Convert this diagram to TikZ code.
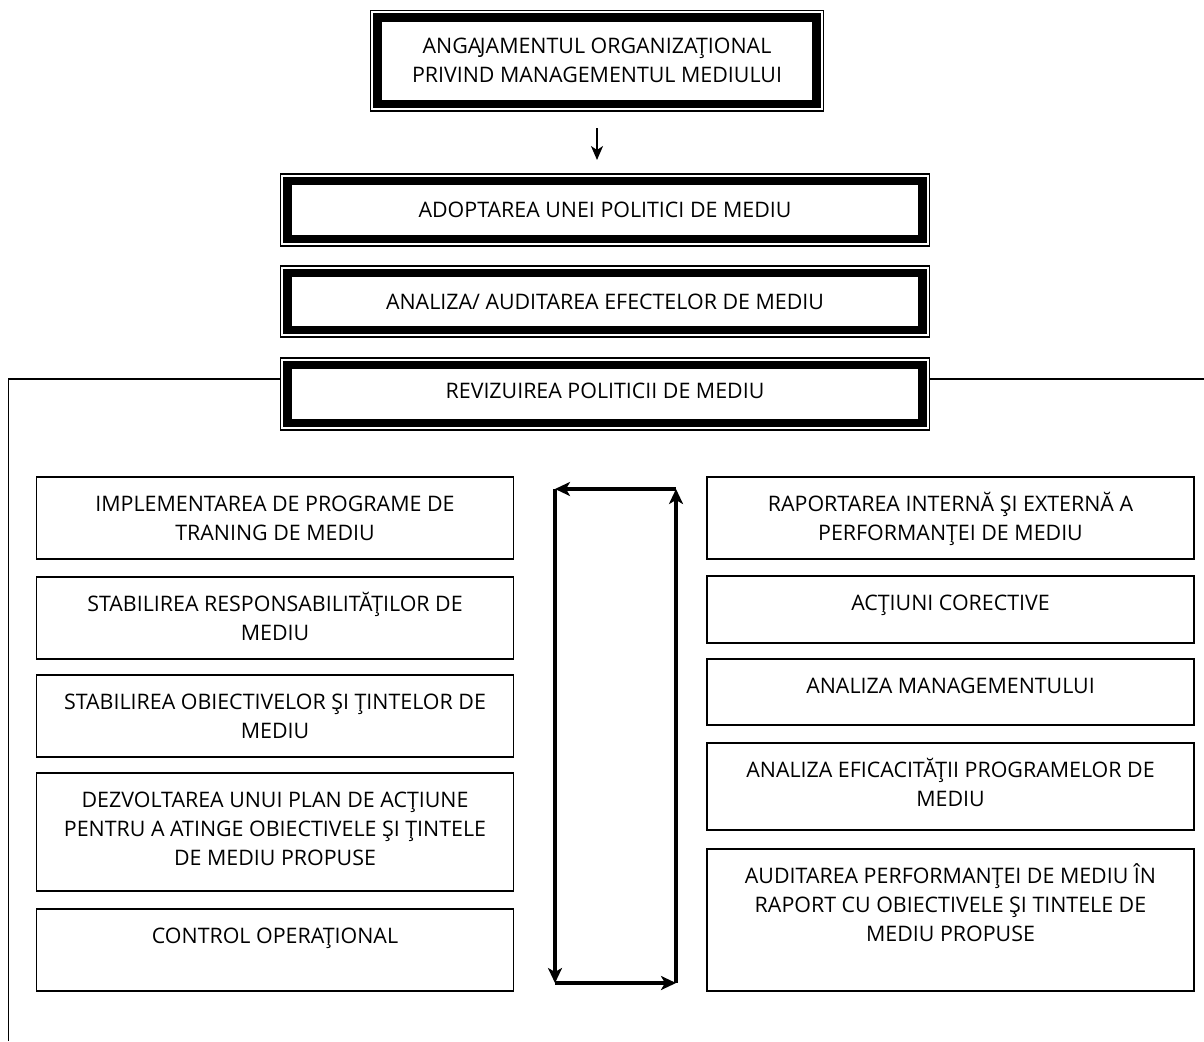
\documentclass[tikz,border=0pt]{standalone}
\usepackage{fontspec}
\setmainfont{Open Sans}
\usetikzlibrary{arrows.meta,calc}
\newcommand\boxtext[3]{\parbox[c][#1][t]{#2}{\centering\fontsize{21.4}{29}\selectfont\rule{0pt}{34pt}#3}}
\begin{document}
\begin{tikzpicture}[x=1pt,y=-1pt,
  bigbox/.style={draw, line width=8.5pt, outer sep=0pt, inner sep=0pt, align=center,
    font=\fontsize{21.4}{29}\selectfont},
  outerline/.style={draw, line width=1.6pt},
  smallbox/.style={draw, line width=1.6pt, inner sep=0pt, outer sep=0pt, anchor=north west},
  conn/.style={line width=1.6pt},
  mainarrow/.style={line width=2pt, -{Stealth[length=14pt,width=12pt,inset=4pt]}},
  looparrow/.style={line width=3.4pt, -{Stealth[length=15pt,width=14pt,inset=4pt]}}
]
\useasboundingbox (0,0) rectangle (1204,1041);

% big double-border boxes
\node[bigbox, minimum width=439pt, minimum height=86.5pt] (top) at (597,60.75)
  {ANGA\kern-1.5pt JAMENTUL ORGANIZAŢIONAL\\PRIVIND MANAGEMENTUL MEDIULUI};
\node[bigbox, minimum width=635pt, minimum height=58pt] (b2) at (605,210)
  {ADOPTAREA UNEI POLITICI DE MEDIU};
\node[bigbox, minimum width=635pt, minimum height=57pt] (b3) at (605,301.5)
  {ANALIZA/ AUDITAREA EFECTELOR DE MEDIU};
\node[bigbox, minimum width=635pt, minimum height=58pt] (b4) at (605,394)
  {\raisebox{6pt}{REVIZUIREA POLITICII DE MEDIU}};
\foreach \n in {top,b2,b3,b4}{
  \draw[outerline] ([shift={(-7,-7)}]\n.north west) rectangle ([shift={(7,7)}]\n.south east);
}

% arrow top -> b2
\draw[mainarrow, shorten <=24pt, shorten >=21pt] (top.south) -- (top.south |- b2.north);

% left small boxes
\node[smallbox] (l1) at (36.5,477) {\boxtext{82pt}{477pt}{IMPLEMENTAREA DE PROGRAME DE\\TRANING DE MEDIU}};
\node[smallbox] (l2) at (36.5,577) {\boxtext{82pt}{477pt}{STABILIREA RESPONSABILITĂŢILOR DE\\MEDIU}};
\node[smallbox] (l3) at (36.5,675) {\boxtext{82pt}{477pt}{STABILIREA OBIECTIVELOR ŞI ŢINTELOR DE\\MEDIU}};
\node[smallbox] (l4) at (36.5,773) {\boxtext{118pt}{477pt}{DEZVOLTAREA UNUI PLAN DE ACŢIUNE\\PENTRU A ATINGE OBIECTIVELE ŞI ŢINTELE\\DE MEDIU PROPUSE}};
\node[smallbox] (l5) at (36.5,909) {\boxtext{82pt}{477pt}{CONTROL OPERAŢIONAL}};

% right small boxes
\node[smallbox] (r1) at (707,477) {\boxtext{82pt}{487pt}{RAPORTAREA INTERNĂ ŞI EXTERNĂ A\\PERFORMANŢEI DE MEDIU}};
\node[smallbox] (r2) at (707,576) {\boxtext{67pt}{487pt}{ACŢIUNI CORECTIVE}};
\node[smallbox] (r3) at (707,659) {\boxtext{66pt}{487pt}{ANALIZA MANAGEMENTULUI}};
\node[smallbox] (r4) at (707,743) {\boxtext{87pt}{487pt}{ANALIZA EFICACITĂŢII PROGRAMELOR DE\\MEDIU}};
\node[smallbox] (r5) at (707,849) {\boxtext{142pt}{487pt}{AUDITAREA PERFORMANŢEI DE MEDIU ÎN\\RAPORT CU OBIECTIVELE ŞI TINTELE DE\\MEDIU PROPUSE}};

% loop of arrows
\coordinate (ctl) at (555,489);
\coordinate (ctr) at (676,489);
\coordinate (cbl) at (555,983);
\coordinate (cbr) at (676,983);
\draw[looparrow] (cbr) -- (ctr);
\draw[looparrow] (ctr) -- (ctl);
\draw[looparrow] (ctl) -- (cbl);
\draw[looparrow] (cbl) -- (cbr);

% feedback lines from b4
\coordinate (lt) at (8.5,379);
\coordinate (lb) at (8.5,1041);
\coordinate (rt) at (1204,379);
\draw[conn] (lb) -- (lt) -- ([xshift=-7pt]b4.west |- lt);
\draw[conn] ([xshift=7pt]b4.east |- rt) -- (rt);
\end{tikzpicture}
\end{document}
